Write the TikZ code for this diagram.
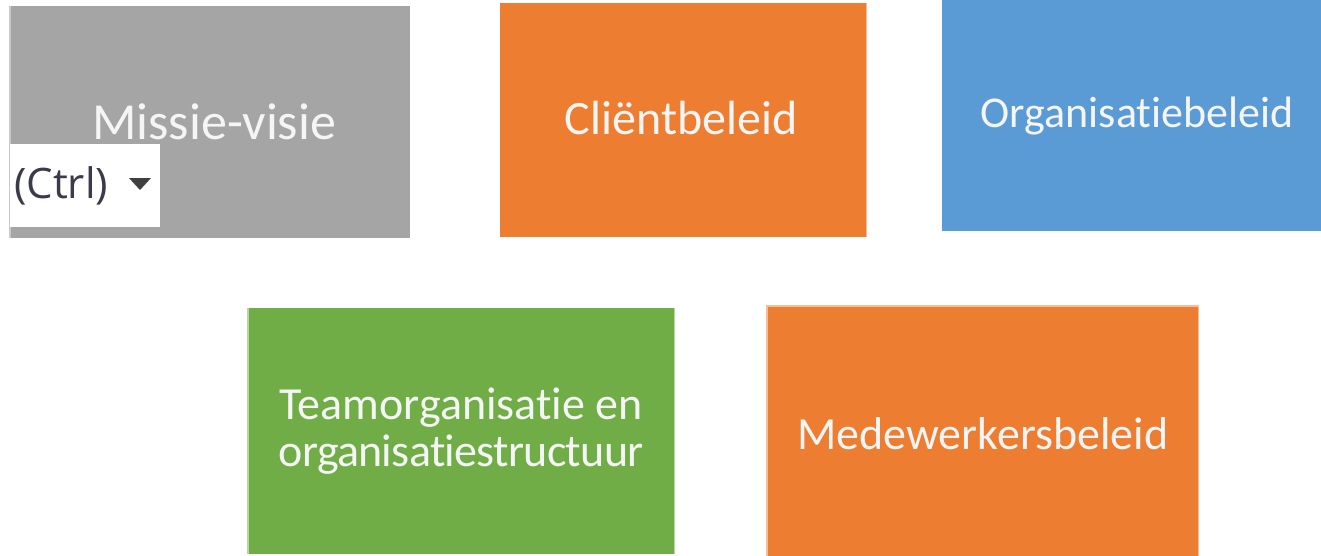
\documentclass[tikz,border=0pt]{standalone}
\usepackage{fontspec}
\setmainfont{Carlito}[Ligatures=NoCommon]
\newfontfamily\uifont{Open Sans}
\definecolor{offgray}{HTML}{A5A5A5}
\definecolor{offorange}{HTML}{ED7D31}
\definecolor{offblue}{HTML}{5B9BD5}
\definecolor{offgreen}{HTML}{70AD47}
\definecolor{ctrltext}{HTML}{3A3A4A}
\definecolor{arrowgray}{HTML}{404040}
\begin{document}
\begin{tikzpicture}[x=1pt,y=-1pt,
  boxstyle/.style={rectangle, inner sep=0pt, anchor=north west, text=white!96!black,
    align=center, font=\fontsize{46}{47}\selectfont},
  edgeline/.style={line width=1.5pt}]
\useasboundingbox (0,0) rectangle (1321,555);
\fill[white] (0,0) rectangle (1321,555);
% boxes
\node[boxstyle, fill=offgray, minimum width=400pt, minimum height=232pt, font=\fontsize{52}{56}\selectfont] (missie) at (10,6) {\hspace*{8pt}Missie-visie};
\node[boxstyle, fill=offorange, minimum width=366pt, minimum height=234pt, font=\fontsize{48}{52}\selectfont] (client) at (500,3) {\raisebox{4pt}{Cliëntbeleid}\hspace*{4pt}};
\node[boxstyle, fill=offblue, minimum width=390pt, minimum height=231pt, font=\fontsize{44}{48}\selectfont] (org) at (942,0) {\raisebox{-6pt}{Organisatiebeleid}};
\node[boxstyle, fill=offgreen, minimum width=426pt, minimum height=246pt] (team) at (248,308) {Teamorganisatie en\\{\addfontfeature{LetterSpace=-1.5}organisatiestructuur}};
\node[boxstyle, fill=offorange, minimum width=431pt, minimum height=254pt] (mede) at (767,306) {Medewerkersbeleid};
% light edges
\draw[edgeline, draw=offgray!60!white] (missie.north west) -- (missie.south west);
\draw[edgeline, draw=offorange!50!white] (client.north east) -- (client.south east);
\draw[edgeline, draw=offgreen!50!white] (team.north west) -- (team.south west);
\draw[edgeline, draw=offgreen!50!white] (team.north east) -- (team.south east);
\draw[edgeline, draw=offorange!50!white] (mede.south west) -- (mede.north west) -- (mede.north east) -- (mede.south east);
% paste options widget
\node[rectangle, fill=white, inner sep=0pt, anchor=north west, minimum width=150pt, minimum height=83pt] (ctrl) at (10,144) {};
\node[anchor=west, inner sep=0pt, text=ctrltext, font=\uifont\fontsize{42}{48}\selectfont] (ctrllabel) at (14,186) {(Ctrl)};
\coordinate (tria) at (129,178);
\coordinate (trib) at (151,178);
\coordinate (tric) at (140,190);
\fill[arrowgray] (tria) -- (trib) -- (tric) -- cycle;
\end{tikzpicture}
\end{document}
